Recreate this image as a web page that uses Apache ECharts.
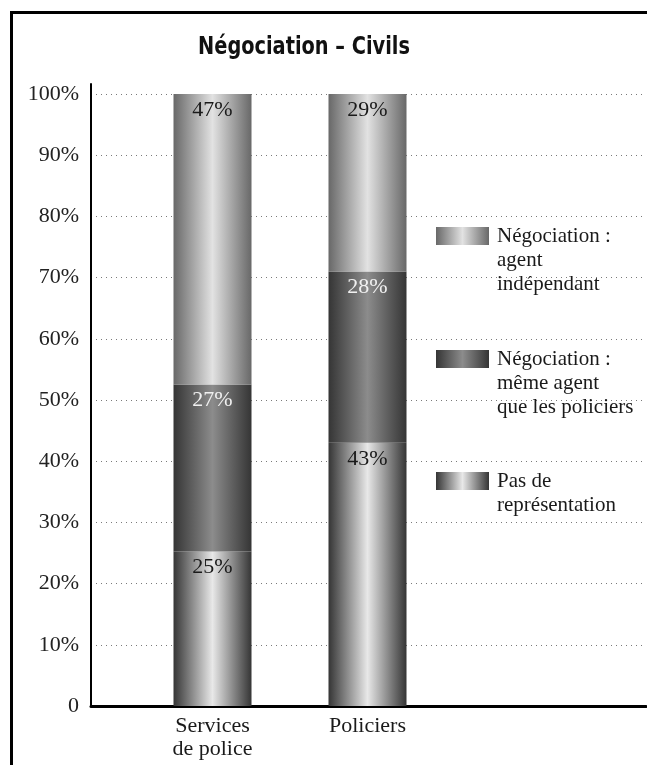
<!DOCTYPE html>
<html>
<head>
<meta charset="utf-8">
<script src="https://cdn.jsdelivr.net/npm/echarts@6/dist/echarts.min.js"></script>
<style>
html,body{margin:0;padding:0;background:#fff;}
#chart{width:647px;height:765px;}
</style>
</head>
<body>
<div id="chart"></div>
<script>
// ---- data ----
var titleText = 'Négociation – Civils';
var categories = ['Services\nde police', 'Policiers'];
var seriesNames = ['Pas de représentation', 'Négociation : même agent que les policiers', 'Négociation : agent indépendant'];
var legendLines = {
  'Négociation : agent indépendant': ['Négociation :', 'agent', 'indépendant'],
  'Négociation : même agent que les policiers': ['Négociation :', 'même agent', 'que les policiers'],
  'Pas de représentation': ['Pas de', 'représentation']
};
var pasDeRepresentation = [25, 43];
var memeAgent = [27, 28];
var agentIndependant = [47, 29];
var yTicks = [0, 10, 20, 30, 40, 50, 60, 70, 80, 90, 100];

var rawSeries = [pasDeRepresentation, memeAgent, agentIndependant];
var totals = categories.map(function (c, i) {
  return rawSeries.reduce(function (s, arr) { return s + arr[i]; }, 0);
});
function pct(arr) { return arr.map(function (v, i) { return v / totals[i] * 100; }); }

var serif = "'Liberation Serif', 'DejaVu Serif', serif";

function grad(edgeL, mid, edgeR, midPos) {
  return new echarts.graphic.LinearGradient(0, 0, 1, 0, [
    { offset: 0, color: edgeL },
    { offset: midPos, color: mid },
    { offset: 1, color: edgeR }
  ]);
}
var colors = [
  grad('#353535', '#e8e8e8', '#353535', 0.5),
  grad('#353535', '#8c8c8c', '#353535', 0.5),
  grad('#686868', '#e2e2e2', '#686868', 0.5)
];
var labelColors = ['#1a1a1a', '#f0f0f0', '#1a1a1a'];

var chart = echarts.init(document.getElementById('chart'), null, { renderer: 'canvas' });

var series = rawSeries.map(function (arr, k) {
  return {
    name: seriesNames[k],
    type: 'bar',
    stack: 'total',
    xAxisIndex: 2,
    yAxisIndex: 2,
    barWidth: 78,
    data: pct(arr),
    itemStyle: { color: colors[k] },
    label: {
      show: true,
      position: 'insideTop',
      distance: 5,
      fontFamily: serif,
      fontSize: 22,
      color: labelColors[k],
      formatter: function (p) { return arr[p.dataIndex] + '%'; }
    }
  };
});

// icon aligned with first text line: pad the text with leading empty lines
function makeLegend(name, iconTop) {
  var lines = legendLines[name];
  var n = lines.length;
  var L = 24, ih = 18;
  var blockH = (2 * n - 1) * L;
  var top = iconTop - (blockH / 2 - ih / 2);
  return {
    show: true,
    left: 436,
    top: top,
    padding: 0,
    orient: 'vertical',
    selectedMode: false,
    icon: 'rect',
    itemWidth: 53,
    itemHeight: ih,
    data: [name],
    formatter: function () {
      var pad = [];
      for (var i = 0; i < n - 1; i++) pad.push(' ');
      return pad.concat(lines).join('\n');
    },
    textStyle: {
      fontFamily: serif,
      fontSize: 21,
      lineHeight: L,
      color: '#1a1a1a',
      padding: [0, 0, 0, 3]
    }
  };
}

var option = {
  animation: false,
  backgroundColor: '#fff',
  graphic: [{
    type: 'rect',
    shape: { x: 11.5, y: 12.5, width: 700, height: 800 },
    style: { fill: 'none', stroke: '#000', lineWidth: 3 },
    silent: true
  }, {
    type: 'text',
    x: 304,
    y: 47,
    scaleX: 0.86,
    silent: true,
    style: {
      text: titleText,
      x: 0, y: 0,
      align: 'center',
      verticalAlign: 'middle',
      font: "bold 25px 'DejaVu Sans Condensed', 'DejaVu Sans', sans-serif",
      fill: '#111'
    }
  }],
  legend: [
    makeLegend(seriesNames[2], 227),
    makeLegend(seriesNames[1], 350),
    makeLegend(seriesNames[0], 472)
  ],
  grid: [
    { left: 91, right: 1, top: 84, bottom: 59 },
    { left: 91, right: 1, top: 94, bottom: 59 },
    { left: 135, width: 310, top: 94, bottom: 59 }
  ],
  xAxis: [
    { gridIndex: 0, type: 'value', min: 0, max: 1, show: false },
    {
      gridIndex: 1, type: 'value', min: 0, max: 1,
      axisLine: { show: true, lineStyle: { color: '#000', width: 3 } },
      axisTick: { show: false }, axisLabel: { show: false }, splitLine: { show: false }
    },
    {
      gridIndex: 2, type: 'category', data: categories,
      axisLine: { show: false }, axisTick: { show: false },
      axisLabel: { fontFamily: serif, fontSize: 22, lineHeight: 23, color: '#1a1a1a', margin: 9 }
    }
  ],
  yAxis: [
    {
      gridIndex: 0, type: 'value', min: 0, max: 1,
      axisLine: { show: true, lineStyle: { color: '#000', width: 2 } },
      axisTick: { show: false }, axisLabel: { show: false }, splitLine: { show: false }
    },
    {
      gridIndex: 1, type: 'value', min: yTicks[0], max: yTicks[yTicks.length - 1], interval: yTicks[1] - yTicks[0],
      axisLine: { show: false }, axisTick: { show: false },
      axisLabel: {
        fontFamily: serif, fontSize: 22, color: '#222', margin: 12,
        formatter: function (v) { return v === 0 ? '0' : v + '%'; }
      },
      splitLine: { show: true, lineStyle: { color: '#7a7a7a', width: 1, type: [1, 4] } }
    },
    { gridIndex: 2, type: 'value', min: 0, max: 100, show: false }
  ],
  series: series
};
chart.setOption(option);
</script>
</body>
</html>
